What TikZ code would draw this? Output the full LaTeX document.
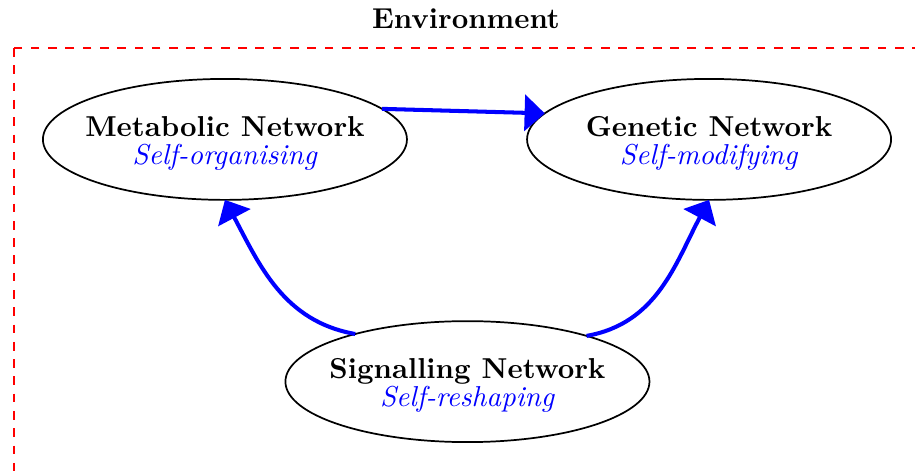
\documentclass[tikz,border=0pt]{standalone}
\usetikzlibrary{shapes.geometric,arrows.meta}
\begin{document}
\begin{tikzpicture}[x=1pt,y=1pt,
  netbox/.style={ellipse,draw,line width=0.6pt,inner sep=0pt,outer sep=0pt,
                 minimum width=126.4pt,minimum height=42pt},
  nettext/.style={align=center,inner sep=0pt,yshift=-1.3pt},
  flow/.style={draw=blue,line width=1.4pt,-{Triangle[length=7pt,width=12.5pt]}},
  envbox/.style={draw=red,dashed,line width=0.6pt}]
  \useasboundingbox (0,0) rectangle (317.7,-163.5);
  % environment frame and its title
  \draw[envbox] (4.9,-16.7) rectangle (340,-190);
  \node[font=\bfseries] (env) at (161.8,-6.6) {Environment};
  % the three networks
  \node[netbox] (M) at (78.1,-48.4) {};
  \node[netbox] (G) at (246.2,-48.4) {};
  \node[netbox] (S) at (162.3,-132.5) {};
  \node[nettext] (Mt) at (M) {\textbf{Metabolic Network}\\[-2.3pt]\textcolor{blue}{\textit{Self-organising}}};
  \node[nettext] (Gt) at (G) {\textbf{Genetic Network}\\[-2.3pt]\textcolor{blue}{\textit{Self-modifying}}};
  \node[nettext] (St) at (S) {\textbf{Signalling Network}\\[-2.3pt]\textcolor{blue}{\textit{Self-reshaping}}};
  % interactions
  \draw[flow] (M.11.5) -- (G.171);
  \draw[flow] (S.157) to[out=170,in=-62] (M.south);
  \draw[flow] (S.21) to[out=10,in=-118] (G.south);
\end{tikzpicture}
\end{document}
